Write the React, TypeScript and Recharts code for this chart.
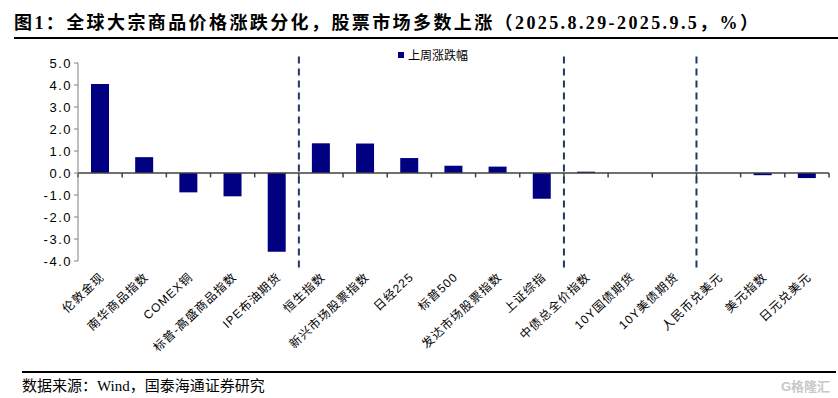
import { BarChart, Bar, XAxis, YAxis, ReferenceLine } from 'recharts';

const categories = [
  '伦敦金现',
  '南华商品指数',
  'COMEX铜',
  '标普-高盛商品指数',
  'IPE布油期货',
  '恒生指数',
  '新兴市场股票指数',
  '日经225',
  '标普500',
  '发达市场股票指数',
  '上证综指',
  '中债总全价指数',
  '10Y国债期货',
  '10Y美债期货',
  '人民币兑美元',
  '美元指数',
  '日元兑美元',
];
const weeklyChange = [4.05, 0.72, -0.88, -1.06, -3.58, 1.35, 1.34, 0.68, 0.33, 0.29, -1.17, 0.06, 0, 0, 0, -0.1, -0.23];
const yTicks = [-4, -3, -2, -1, 0, 1, 2, 3, 4, 5];
const dividers = ['恒生指数', '中债总全价指数', '人民币兑美元'];

const data = categories.map((name, i) => ({ name, value: weeklyChange[i] }));

const sansFont = '"Liberation Sans", Arial, "Noto Sans CJK SC", sans-serif';
const serifFont = '"Liberation Serif", "Times New Roman", "Noto Sans CJK SC", serif';
const navy = '#000080';

// rotated category labels, ending just under the category centre
const CategoryTick = (props: any) => {
  const { x, y, payload } = props;
  const tx = x + 5;
  const ty = y + 9;
  return (
    <text
      x={tx}
      y={ty}
      textAnchor="end"
      fontSize={12}
      letterSpacing={1}
      fontFamily={sansFont}
      fill="#000"
      transform={`rotate(-43, ${tx}, ${ty})`}
    >
      {payload.value}
    </text>
  );
};

export default function App() {
  return (
    <div style={{ position: 'relative', width: 838, height: 398, background: '#fff', overflow: 'hidden' }}>
      <style>{'body{margin:0}'}</style>
      <div
        style={{
          position: 'absolute',
          left: 14,
          top: 8,
          fontFamily: serifFont,
          fontWeight: 'bold',
          fontSize: 18,
          letterSpacing: 2.4,
          whiteSpace: 'nowrap',
          color: '#000',
        }}
      >
        图1：全球大宗商品价格涨跌分化，股票市场多数上涨（2025.8.29-2025.9.5，%）
      </div>
      <div style={{ position: 'absolute', left: 14, right: 0, top: 37, height: 1.5, background: '#000' }} />

      <div style={{ position: 'absolute', left: 0, top: 0 }}>
        <BarChart width={838} height={398} data={data} margin={{ top: 63, right: 9, bottom: 0, left: 0 }}>
          <XAxis dataKey="name" interval={0} axisLine={false} tickLine={false} height={137} tick={<CategoryTick />} />
          <YAxis
            width={78}
            domain={[-4, 5]}
            ticks={yTicks}
            interval={0}
            tickFormatter={(v: number) => v.toFixed(1)}
            tickSize={4}
            tick={{ fontSize: 13, fontFamily: sansFont, fill: '#000', letterSpacing: 1.5 }}
            axisLine={{ stroke: '#808080' }}
            tickLine={{ stroke: '#808080' }}
            allowDataOverflow
          />
          <ReferenceLine y={0} stroke="#404040" strokeWidth={1.5} />
          {categories.map((c) => (
            <ReferenceLine key={`tick-${c}`} segment={[{ x: c, y: 0 }, { x: c, y: -0.2 }]} position="start" stroke="#404040" strokeWidth={1.5} ifOverflow="visible" />
          ))}
          <ReferenceLine
            segment={[{ x: categories[categories.length - 1], y: 0 }, { x: categories[categories.length - 1], y: -0.2 }]}
            position="end"
            stroke="#404040"
            strokeWidth={1.5}
            ifOverflow="visible"
          />
          {dividers.map((c) => (
            <ReferenceLine
              key={`div-${c}`}
              segment={[{ x: c, y: 5.3 }, { x: c, y: -4.3 }]}
              position="start"
              stroke="#1F3864"
              strokeWidth={2}
              strokeDasharray="7 5"
              ifOverflow="visible"
            />
          ))}
          <Bar dataKey="value" fill={navy} barSize={18} isAnimationActive={false} />
        </BarChart>
      </div>

      <div
        style={{
          position: 'absolute',
          left: 398,
          top: 46,
          display: 'flex',
          alignItems: 'center',
          fontFamily: sansFont,
          fontSize: 12,
          color: '#000',
        }}
      >
        <span style={{ width: 6, height: 6, background: navy, display: 'inline-block', marginRight: 4 }} />
        上周涨跌幅
      </div>

      <div style={{ position: 'absolute', left: 22, right: 2, top: 371, height: 1.5, background: '#000' }} />
      <div style={{ position: 'absolute', left: 22, top: 374, fontFamily: serifFont, fontSize: 15, color: '#000', whiteSpace: 'nowrap' }}>
        数据来源：Wind，国泰海通证券研究
      </div>
      <div style={{ position: 'absolute', right: 8, top: 376, fontFamily: sansFont, fontSize: 13, color: '#c8c8c8', fontWeight: 'bold' }}>
        G格隆汇
      </div>
    </div>
  );
}
